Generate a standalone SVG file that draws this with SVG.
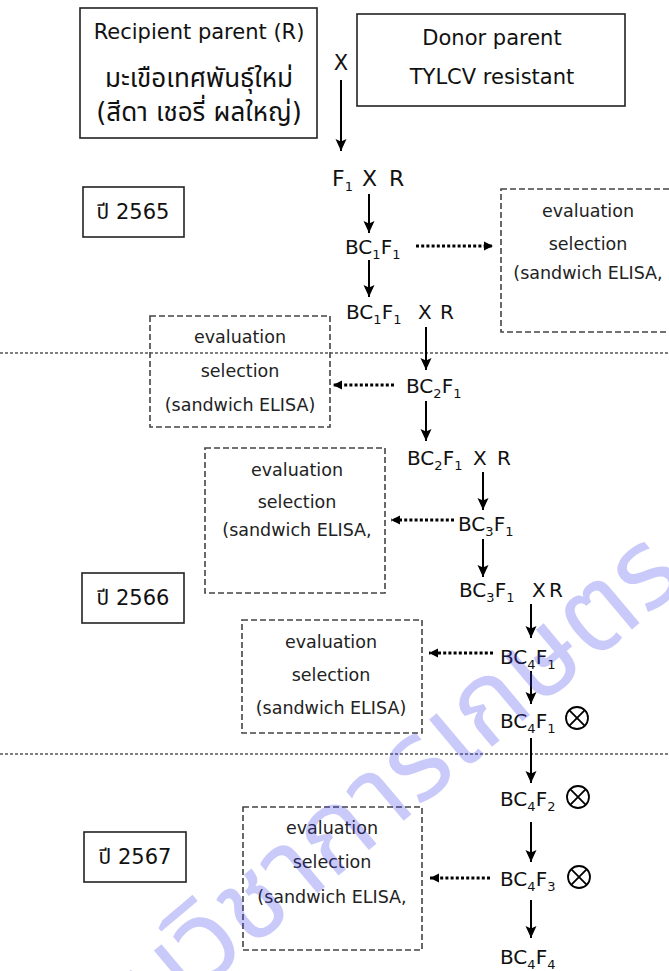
<svg xmlns="http://www.w3.org/2000/svg" width="669" height="971" viewBox="0 0 669 971">
<defs>
<style>
text{font-family:"DejaVu Sans","Noto Sans Thai","Noto Sans",sans-serif;fill:#111;}
.t20{font-size:21px;text-anchor:middle;}
.th{font-size:26px;text-anchor:middle;}
.yr{font-size:21px;text-anchor:middle;}
.t17{font-size:17.5px;text-anchor:middle;fill:#222;}
.gen{font-size:20px;}
.sub{font-size:13px;}
.solid{fill:#fff;stroke:#222;stroke-width:1.6;}
.dash{fill:none;stroke:#444;stroke-width:1.6;stroke-dasharray:6 3;}
.sep{stroke:#555;stroke-width:1.6;stroke-dasharray:3 2;}
.arr{stroke:#000;stroke-width:2;fill:none;marker-end:url(#ah);}
.dot{stroke:#000;stroke-width:2.8;stroke-dasharray:3 2.2;fill:none;marker-end:url(#dh);}
.self{fill:none;stroke:#000;stroke-width:1.8;}
.wm{font-size:112px;fill:#3a3aee;fill-opacity:0.27;text-anchor:middle;}
</style>
<marker id="ah" markerWidth="13" markerHeight="13" refX="12" refY="6.5" orient="auto" markerUnits="userSpaceOnUse">
<path d="M0,1 L12,6.5 L0,12 L2.5,6.5 z" fill="#000"/>
</marker>
<marker id="dh" markerWidth="10" markerHeight="10" refX="9" refY="5" orient="auto" markerUnits="userSpaceOnUse">
<path d="M0,0.5 L9,5 L0,9.5 z" fill="#000"/>
</marker>
</defs>
<rect width="669" height="971" fill="#fff"/>

<g id="separators">
<line class="sep" x1="0" y1="353" x2="669" y2="353"/>
<line class="sep" x1="0" y1="754" x2="669" y2="754"/>
</g>

<g id="recipient">
<rect class="solid" x="80" y="8" width="237" height="130"/>
<text class="t20" x="199" y="39">Recipient parent (R)</text>
<text class="th" x="199" y="87">มะเขือเทศพันธุ์ใหม่</text>
<text class="th" x="199" y="121">(สีดา เชอรี่ ผลใหญ่)</text>
</g>

<g id="donor">
<rect class="solid" x="357" y="14" width="268" height="92"/>
<text class="t20" x="492" y="45">Donor parent</text>
<text class="t20" x="492" y="84">TYLCV resistant</text>
</g>

<g id="cross-x">
<text class="t20" x="341" y="70">X</text>
</g>

<g id="year2565">
<rect class="solid" x="83" y="187" width="101" height="50"/>
<text class="yr" x="133" y="219">ปี 2565</text>
</g>
<g id="year2566">
<rect class="solid" x="82" y="573" width="102" height="50"/>
<text class="yr" x="133" y="605">ปี 2566</text>
</g>
<g id="year2567">
<rect class="solid" x="84" y="832" width="102" height="50"/>
<text class="yr" x="135" y="864">ปี 2567</text>
</g>

<g id="f1xr">
<text x="332" y="186" style="font-size:22px">F<tspan class="sub" dy="5">1</tspan><tspan dy="-5" x="362">X</tspan><tspan x="389">R</tspan></text>
</g>
<g id="bc1f1">
<text class="gen" x="345" y="254">BC<tspan class="sub" dy="5">1</tspan><tspan dy="-5">F</tspan><tspan class="sub" dy="5">1</tspan></text>
</g>
<g id="bc1f1xr">
<text class="gen" x="346" y="319">BC<tspan class="sub" dy="5">1</tspan><tspan dy="-5">F</tspan><tspan class="sub" dy="5">1</tspan><tspan dy="-5" x="418">X</tspan><tspan x="440">R</tspan></text>
</g>
<g id="bc2f1">
<text class="gen" x="406" y="393">BC<tspan class="sub" dy="5">2</tspan><tspan dy="-5">F</tspan><tspan class="sub" dy="5">1</tspan></text>
</g>
<g id="bc2f1xr">
<text class="gen" x="407" y="465">BC<tspan class="sub" dy="5">2</tspan><tspan dy="-5">F</tspan><tspan class="sub" dy="5">1</tspan><tspan dy="-5" x="473">X</tspan><tspan x="497">R</tspan></text>
</g>
<g id="bc3f1">
<text class="gen" x="458" y="531">BC<tspan class="sub" dy="5">3</tspan><tspan dy="-5">F</tspan><tspan class="sub" dy="5">1</tspan></text>
</g>
<g id="bc3f1xr">
<text class="gen" x="459" y="597">BC<tspan class="sub" dy="5">3</tspan><tspan dy="-5">F</tspan><tspan class="sub" dy="5">1</tspan><tspan dy="-5" x="532">X</tspan><tspan x="549">R</tspan></text>
</g>
<g id="bc4f1">
<text class="gen" x="500" y="664">BC<tspan class="sub" dy="5">4</tspan><tspan dy="-5">F</tspan><tspan class="sub" dy="5">1</tspan></text>
</g>
<g id="bc4f1-self">
<text class="gen" x="500" y="728">BC<tspan class="sub" dy="5">4</tspan><tspan dy="-5">F</tspan><tspan class="sub" dy="5">1</tspan></text>
<circle class="self" cx="577" cy="718" r="11"/>
<path class="self" d="M569.2,710.2 L584.8,725.8 M584.8,710.2 L569.2,725.8"/>
</g>
<g id="bc4f2">
<text class="gen" x="500" y="806">BC<tspan class="sub" dy="5">4</tspan><tspan dy="-5">F</tspan><tspan class="sub" dy="5">2</tspan></text>
<circle class="self" cx="578" cy="797" r="11"/>
<path class="self" d="M570.2,789.2 L585.8,804.8 M585.8,789.2 L570.2,804.8"/>
</g>
<g id="bc4f3">
<text class="gen" x="500" y="886">BC<tspan class="sub" dy="5">4</tspan><tspan dy="-5">F</tspan><tspan class="sub" dy="5">3</tspan></text>
<circle class="self" cx="579" cy="877" r="11"/>
<path class="self" d="M571.2,869.2 L586.8,884.8 M586.8,869.2 L571.2,884.8"/>
</g>
<g id="bc4f4">
<text class="gen" x="500" y="964">BC<tspan class="sub" dy="5">4</tspan><tspan dy="-5">F</tspan><tspan class="sub" dy="5">4</tspan></text>
</g>

<g id="eval1">
<rect class="dash" x="501" y="189" width="200" height="143"/>
<text class="t17" x="588" y="217">evaluation</text>
<text class="t17" x="588" y="250">selection</text>
<text class="t17" x="588" y="279">(sandwich ELISA,</text>
</g>
<g id="eval2">
<rect class="dash" x="150" y="316" width="180" height="111"/>
<text class="t17" x="240" y="343">evaluation</text>
<text class="t17" x="240" y="377">selection</text>
<text class="t17" x="240" y="411">(sandwich ELISA)</text>
</g>
<g id="eval3">
<rect class="dash" x="205" y="448" width="180" height="145"/>
<text class="t17" x="297" y="476">evaluation</text>
<text class="t17" x="297" y="508">selection</text>
<text class="t17" x="297" y="536">(sandwich ELISA,</text>
</g>
<g id="eval4">
<rect class="dash" x="242" y="620" width="180" height="113"/>
<text class="t17" x="331" y="648">evaluation</text>
<text class="t17" x="331" y="681">selection</text>
<text class="t17" x="331" y="714">(sandwich ELISA)</text>
</g>
<g id="eval5">
<rect class="dash" x="243" y="807" width="179" height="143"/>
<text class="t17" x="332" y="834">evaluation</text>
<text class="t17" x="332" y="868">selection</text>
<text class="t17" x="332" y="903">(sandwich ELISA,</text>
</g>

<g id="connectors">
<line class="arr" x1="341" y1="80" x2="341" y2="151"/>
<line class="arr" x1="369" y1="194" x2="369" y2="233"/>
<line class="arr" x1="369" y1="260" x2="369" y2="297"/>
<line class="arr" x1="426" y1="327" x2="426" y2="370"/>
<line class="arr" x1="426" y1="401" x2="426" y2="441"/>
<line class="arr" x1="483" y1="472" x2="483" y2="510"/>
<line class="arr" x1="483" y1="539" x2="483" y2="577"/>
<line class="arr" x1="531" y1="604" x2="531" y2="638"/>
<line class="arr" x1="531" y1="671" x2="531" y2="704"/>
<line class="arr" x1="531" y1="738" x2="531" y2="783"/>
<line class="arr" x1="531" y1="822" x2="531" y2="862"/>
<line class="arr" x1="531" y1="900" x2="531" y2="938"/>
<line class="dot" x1="416" y1="246" x2="493" y2="246"/>
<line class="dot" x1="394" y1="385" x2="333" y2="385"/>
<line class="dot" x1="454" y1="520" x2="391" y2="520"/>
<line class="dot" x1="493" y1="653" x2="429" y2="653"/>
<line class="dot" x1="490" y1="878" x2="430" y2="878"/>
</g>

<g id="watermark">
<text class="wm" transform="translate(350,815) rotate(-40)" dominant-baseline="central">กรมวิชาการเกษตร</text>
</g>
</svg>
